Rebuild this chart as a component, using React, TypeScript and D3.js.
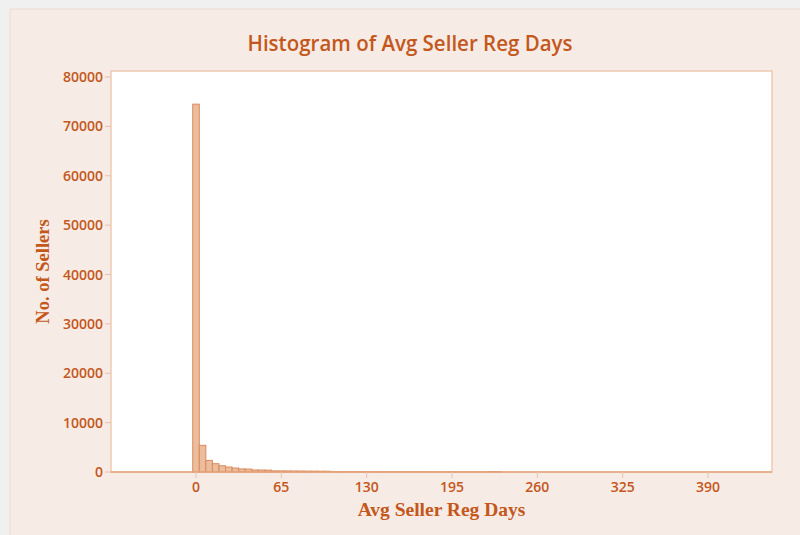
import { useMemo } from "react";
import { scaleLinear } from "d3";

// histogram bins: width 5 days, centred at 0, 5, 10, ...
const binWidth = 5;
const binCenters = [
  0, 5, 10, 15, 20, 25, 30, 35, 40, 45, 50, 55, 60, 65, 70, 75, 80, 85, 90, 95,
  100, 105, 110, 115, 120, 125, 130, 135, 140, 145, 150, 155, 160, 165, 170, 175,
  180, 185, 190, 195, 200, 205, 210, 215, 220, 225, 230
];
const sellerCounts = [
  74500, 5400, 2350, 1680, 1270, 1010, 810, 620, 600, 410, 400, 380, 230, 220, 210, 200, 190, 180, 170, 160,
  150, 60, 55, 50, 45, 40, 40, 35, 30, 30, 25, 25, 20, 20, 20, 15, 15,
  15, 12, 10, 10, 10, 8, 8, 8, 110, 90
];
const xTicks = [0, 65, 130, 195, 260, 325, 390];
const yTicks = [0, 10000, 20000, 30000, 40000, 50000, 60000, 70000, 80000];

const title = "Histogram of Avg Seller Reg Days";
const xLabel = "Avg Seller Reg Days";
const yLabel = "No. of Sellers";

const W = 800;
const H = 535;
const plot = { left: 111, top: 71, right: 772, bottom: 472 };
const orange = "#c4571b";
const sans = "'Open Sans', 'Noto Sans', sans-serif";
const serif = "'Liberation Serif', 'DejaVu Serif', serif";

export default function App() {
  const x = useMemo(() => scaleLinear().domain([0, 390]).range([196, 708]), []);
  const y = useMemo(() => scaleLinear().domain([0, 80000]).range([plot.bottom, 77]), []);

  return (
    <svg
      width={W}
      height={H}
      style={{ position: "absolute", left: 0, top: 0, display: "block" }}
    >
      <rect width={W} height={H} fill="#f0f0f0" />
      <rect x={10} y={9} width={W} height={H} fill="#f6ebe5" stroke="#eedccf" />
      <text
        x={410}
        y={51}
        textAnchor="middle"
        fill={orange}
        fontFamily={sans}
        fontSize={21}
        fontWeight={600}
        textLength={325}
        lengthAdjust="spacingAndGlyphs"
      >
        {title}
      </text>

      <rect
        x={plot.left}
        y={plot.top}
        width={plot.right - plot.left}
        height={plot.bottom - plot.top}
        fill="#ffffff"
        stroke="#efcab3"
        strokeWidth={1.5}
      />

      {binCenters.map((c, i) => {
        const x0 = x(c - binWidth / 2);
        const x1 = x(c + binWidth / 2);
        const yTop = y(sellerCounts[i]);
        return (
          <rect
            key={c}
            x={x0}
            y={yTop}
            width={x1 - x0}
            height={plot.bottom - yTop}
            fill="#ebbd9c"
            stroke="#da8b5e"
            strokeWidth={1}
          />
        );
      })}

      <line x1={plot.left} x2={plot.right} y1={plot.bottom} y2={plot.bottom} stroke="#e6a47c" strokeWidth={1.5} />

      {yTicks.map((t) => (
        <g key={t}>
          <line x1={plot.left - 6} x2={plot.left} y1={y(t)} y2={y(t)} stroke="#e9c1a8" />
          <text
            x={plot.left - 8}
            y={y(t)}
            dy="0.36em"
            textAnchor="end"
            fill={orange}
            fontFamily={sans}
            fontSize={14}
            fontWeight={600}
          >
            {t}
          </text>
        </g>
      ))}

      {xTicks.map((t) => (
        <g key={t}>
          <line x1={x(t)} x2={x(t)} y1={plot.bottom} y2={plot.bottom + 6} stroke="#e9c1a8" />
          <text
            x={x(t)}
            y={492}
            textAnchor="middle"
            fill={orange}
            fontFamily={sans}
            fontSize={14}
            fontWeight={600}
          >
            {t}
          </text>
        </g>
      ))}

      <text
        x={(plot.left + plot.right) / 2}
        y={516}
        textAnchor="middle"
        fill={orange}
        fontFamily={serif}
        fontWeight="bold"
        fontSize={19.5}
      >
        {xLabel}
      </text>
      <text
        transform={`translate(49, ${(plot.top + plot.bottom) / 2}) rotate(-90)`}
        textAnchor="middle"
        fill={orange}
        fontFamily={serif}
        fontWeight="bold"
        fontSize={18.5}
      >
        {yLabel}
      </text>
    </svg>
  );
}
